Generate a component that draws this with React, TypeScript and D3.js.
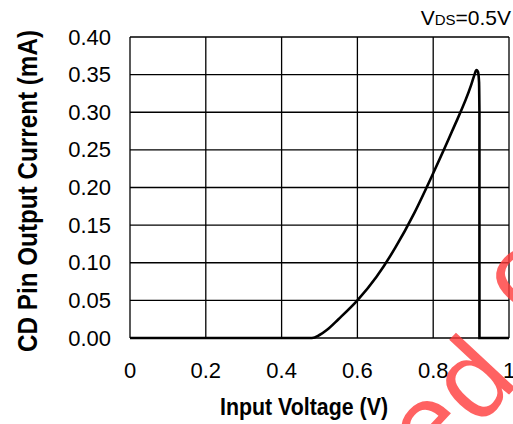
import React from "react";
import * as d3 from "d3";

const xTicks = [0, 0.2, 0.4, 0.6, 0.8, 1];
const xTickLabels = ["0", "0.2", "0.4", "0.6", "0.8", "1"];
const yTicks = [0, 0.05, 0.1, 0.15, 0.2, 0.25, 0.3, 0.35, 0.4];
const yTickLabels = ["0.00", "0.05", "0.10", "0.15", "0.20", "0.25", "0.30", "0.35", "0.40"];
const vin = [0, 0.3, 0.48, 0.5, 0.52, 0.55, 0.6, 0.65, 0.7, 0.75, 0.8, 0.85, 0.9, 0.909, 0.914, 0.918, 0.921, 0.922, 0.922, 1.0];
const iout = [0, 0, 0, 0.004, 0.011, 0.025, 0.05, 0.081, 0.12, 0.166, 0.219, 0.275, 0.336, 0.35, 0.356, 0.354, 0.34, 0.3, 0, 0];

const W = 513, H = 424;
const L = 130, R = 509, T = 37, B = 338;
const FONT = "'Liberation Sans', Arial, Helvetica, sans-serif";

export default function App() {
  const x = d3.scaleLinear().domain([0, 1]).range([L, R]);
  const y = d3.scaleLinear().domain([0, 0.4]).range([B, T]);
  const pts: [number, number][] = vin.map((v, i) => [v, iout[i]]);
  const rise = pts.slice(0, 18);
  const tail = pts.slice(17);
  const lineMono = d3.line<[number, number]>().x(d => x(d[0])).y(d => y(d[1])).curve(d3.curveMonotoneX);
  const lineLin = d3.line<[number, number]>().x(d => x(d[0])).y(d => y(d[1]));
  return (
    <svg width={W} height={H} style={{ position: "absolute", left: 0, top: 0 }}>
      <rect x={0} y={0} width={W} height={H} fill="#fff" />
      {xTicks.map((t, i) => (
        <line key={"gx" + i} x1={x(t)} x2={x(t)} y1={T} y2={B} stroke="#000" strokeWidth={1.3} />
      ))}
      {yTicks.map((t, i) => (
        <line key={"gy" + i} x1={L} x2={R} y1={y(t)} y2={y(t)} stroke="#000" strokeWidth={1.3} />
      ))}
      {yTicks.map((t, i) => (
        <text key={"ty" + i} x={111} y={y(t) + 7.5} textAnchor="end" fontFamily={FONT} fontSize={22} fill="#000">
          {yTickLabels[i]}
        </text>
      ))}
      {xTicks.map((t, i) => (
        <text key={"tx" + i} x={x(t)} y={378} textAnchor="middle" fontFamily={FONT} fontSize={22} fill="#000">
          {xTickLabels[i]}
        </text>
      ))}
      <path d={lineMono(rise) || ""} fill="none" stroke="#000" strokeWidth={2.6} strokeLinejoin="round" />
      <path d={lineLin(tail) || ""} fill="none" stroke="#000" strokeWidth={2.6} strokeLinejoin="miter" />
      <text x={220} y={415} fontFamily={FONT} fontSize={23} fontWeight="bold" fill="#000" textLength={168} lengthAdjust="spacingAndGlyphs">
        Input Voltage (V)
      </text>
      <text transform={`translate(37,352) rotate(-90)`} fontFamily={FONT} fontSize={27} fontWeight="bold" fill="#000" textLength={322} lengthAdjust="spacingAndGlyphs">
        CD Pin Output Current (mA)
      </text>
      <text x={511} y={25} textAnchor="end" fontFamily={FONT} fontSize={21} fill="#000">
        V<tspan fontSize={15}>DS</tspan>=0.5V
      </text>
      <g fill="#ff3b3b" opacity={0.8} fontFamily={FONT} fontSize={112}>
        <text transform="translate(432,474) rotate(-47)">e</text>
        <text transform="translate(478,428) rotate(-47)">d</text>
        <text transform="translate(527,322) rotate(-47)">o</text>
      </g>
    </svg>
  );
}
